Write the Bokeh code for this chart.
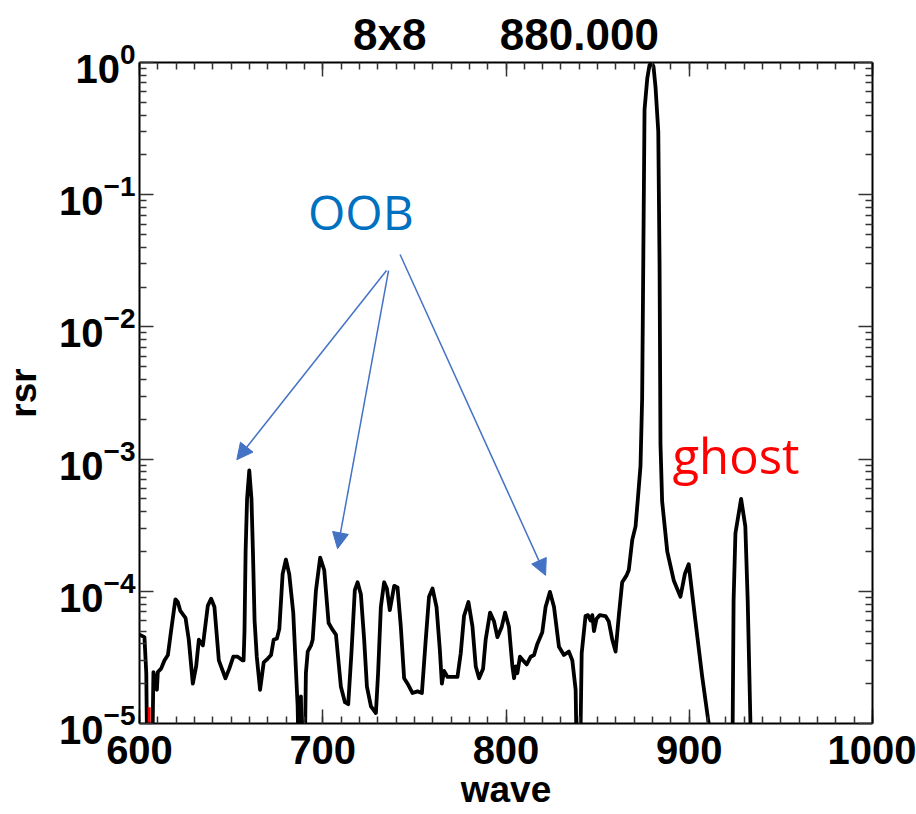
from bokeh.plotting import figure
from bokeh.models import Range1d, LinearAxis, LogAxis, FixedTicker, Arrow, NormalHead, Label, Title
from bokeh.embed import file_html
from bokeh.resources import INLINE

# ---- data ----
wave = [600.0, 602.7, 603.7, 604.4, 606.7, 607.6, 609.5, 610.0, 611.8, 613.6, 615.5, 617.3, 619.6, 620.9,
        622.3, 625.1, 626.9, 629.1, 630.9, 632.4, 634.6, 637.3, 639.1, 640.9, 643.3, 644.5, 646.9, 649.0,
        651.2, 653.6, 656.3, 656.8, 657.3, 657.9, 658.7, 659.9, 661.1, 661.9, 662.8, 664.0, 665.8, 667.8,
        670.0, 671.8, 673.2, 675.0, 676.3, 678.1, 679.9, 681.7, 683.9, 686.3, 687.2, 688.1, 689.0, 689.9,
        690.8, 691.8, 693.6, 694.5, 696.3, 698.6, 700.8, 703.2, 705.4, 707.2, 709.9, 712.1, 713.9, 715.7,
        717.5, 719.0, 720.8, 722.6, 724.1, 726.3, 729.0, 730.2, 731.7, 733.5, 735.0, 736.6, 739.0, 740.8,
        742.6, 744.4, 746.3, 749.0, 751.7, 754.1, 756.2, 758.0, 759.9, 762.1, 763.9, 765.0, 766.2, 768.1,
        770.8, 773.5, 775.3, 777.1, 779.5, 781.7, 783.5, 785.3, 787.5, 788.9, 791.3, 793.5, 795.3, 797.7,
        799.5, 801.6, 803.5, 804.4, 805.3, 806.2, 807.6, 809.8, 811.3, 813.5, 815.3, 817.1, 819.8, 821.6,
        824.0, 826.2, 828.9, 831.6, 834.3, 836.2, 838.0, 838.9, 840.2, 841.3, 843.4, 844.7, 846.2, 847.1,
        848.0, 849.4, 851.2, 854.3, 856.1, 858.0, 859.8, 861.6, 863.4, 865.8, 867.0, 868.9, 870.7, 871.9,
        873.4, 874.3, 874.9, 875.6, 877.1, 878.3, 879.4, 880.5, 881.6, 883.1, 883.8, 884.3, 885.2, 886.5,
        888.0, 891.6, 895.2, 897.6, 899.7, 903.4, 907.0, 910.6, 912.0, 922.5, 923.7, 924.2, 925.2, 928.3,
        930.6, 931.9, 933.4, 934.5]
rsr = [4.7e-5, 4.5e-5, 2.4e-5, 3e-6, 3e-6, 2.45e-5, 1.8e-5, 2.45e-5, 2.6e-5, 3.0e-5, 3.3e-5, 5.1e-5, 8.7e-5, 8.3e-5,
       7.1e-5, 6.3e-5, 4.3e-5, 2.0e-5, 2.7e-5, 4.3e-5, 3.9e-5, 7.8e-5, 8.8e-5, 7.6e-5, 3.0e-5, 2.7e-5, 2.2e-5, 2.6e-5,
       3.2e-5, 3.2e-5, 3.0e-5, 3.0e-5, 5e-5, 2e-4, 5e-4, 8.2e-4, 5e-4, 2e-4, 6e-5, 3.2e-5, 1.8e-5, 2.9e-5,
       3.1e-5, 3.3e-5, 4.3e-5, 4.4e-5, 5.2e-5, 1.35e-4, 1.74e-4, 1.35e-4, 6.9e-5, 1.35e-5, 3e-6, 1.6e-5, 3e-6, 3e-6,
       2.4e-5, 3.5e-5, 3.9e-5, 4.3e-5, 1.02e-4, 1.8e-4, 1.45e-4, 5.75e-5, 5.1e-5, 4.7e-5, 1.9e-5, 1.45e-5, 1.4e-5, 3.5e-5,
       1.02e-4, 1.17e-4, 9.5e-5, 4.3e-5, 1.9e-5, 1.35e-5, 1.2e-5, 2.4e-5, 7.6e-5, 1.17e-4, 1.05e-4, 7.2e-5, 1.1e-4, 1.07e-4,
       5.4e-5, 2.2e-5, 2.0e-5, 1.7e-5, 1.75e-5, 1.7e-5, 4.3e-5, 9.1e-5, 1.05e-4, 7.6e-5, 3.6e-5, 2.0e-5, 2.5e-5, 2.25e-5,
       2.25e-5, 2.25e-5, 3.4e-5, 6.5e-5, 8.3e-5, 5.4e-5, 2.7e-5, 2.2e-5, 2.6e-5, 4.3e-5, 6.9e-5, 5.9e-5, 4.5e-5, 5.4e-5,
       6.9e-5, 5.4e-5, 2.7e-5, 2.2e-5, 2.7e-5, 2.4e-5, 3.2e-5, 2.95e-5, 2.8e-5, 3.2e-5, 3.3e-5, 4.0e-5, 4.9e-5, 7.6e-5,
       9.9e-5, 7.6e-5, 3.8e-5, 3.3e-5, 3.5e-5, 3.0e-5, 1.8e-5, 3e-6, 3e-6, 3.4e-5, 6.5e-5, 6.6e-5, 6.0e-5, 6.6e-5,
       5.0e-5, 6.2e-5, 6.6e-5, 6.5e-5, 5.9e-5, 4.3e-5, 3.5e-5, 6.6e-5, 1.17e-4, 1.32e-4, 1.45e-4, 2.45e-4, 3.1e-4, 4.9e-4,
       8.9e-4, 2.9e-3, 2.95e-2, 0.44, 0.76, 0.95, 1.0, 0.93, 0.65, 0.30, 2.95e-2, 1.3e-3, 4.8e-4, 3.2e-4,
       2.0e-4, 1.2e-4, 9.1e-5, 1.35e-4, 1.6e-4, 5.9e-5, 2.3e-5, 1e-5, 3e-6, 3e-6, 1e-5, 8.5e-5, 2.75e-4, 5.0e-4,
       3.1e-4, 8.5e-5, 1e-5, 3e-6]

red_wave = [605.3, 605.3]
red_rsr = [3e-6, 1.33e-5]

x_major = [600, 700, 800, 900, 1000]
x_minor = [v for v in range(600, 1001, 10)]
y_major = [1e-5, 1e-4, 1e-3, 1e-2, 1e-1, 1.0]
y_minor = [k * 10.0 ** e for e in range(-5, 0) for k in range(2, 10)]

# annotation anchors (data coordinates)
arrow_x_start = [734.8, 735.9, 742.2]
arrow_y_start = [0.0267, 0.0267, 0.0353]
arrow_x_end = [653.1, 708.1, 821.6]
arrow_y_end = [9.9e-4, 2.1e-4, 1.32e-4]
oob_pos = (720.8, 0.074)
ghost_pos = (925.5, 1.08e-3)

title_text = "8x8\u00a0\u00a0\u00a0\u00a0\u00a0\u00a0880.000"

FONT = "Liberation Sans"

p = figure(width=916, height=814, y_axis_type="log",
           x_range=Range1d(600, 1000), y_range=Range1d(1e-5, 1.0),
           output_backend="svg", toolbar_location=None,
           min_border_left=138, min_border_right=44, min_border_top=62, min_border_bottom=91)
p.title = Title(text=title_text, align="center", text_font=FONT, text_font_size="44px",
                text_font_style="bold", text_color="black", standoff=8)
p.grid.visible = False
p.outline_line_color = None
p.background_fill_color = "white"

def style_axis(ax, show_labels):
    ax.axis_line_width = 2
    ax.axis_line_color = "black"
    ax.major_tick_in = 14
    ax.major_tick_out = 0
    ax.minor_tick_in = 7
    ax.minor_tick_out = 0
    ax.major_tick_line_color = "#333333"
    ax.minor_tick_line_color = "#333333"
    ax.major_tick_line_width = 1.5
    ax.minor_tick_line_width = 1.5
    if show_labels:
        ax.major_label_text_font = FONT
        ax.major_label_text_font_style = "bold"
        ax.major_label_text_font_size = "40px"
        ax.major_label_text_color = "black"
        ax.axis_label_text_font = FONT
        ax.axis_label_text_font_style = "bold"
        ax.axis_label_text_font_size = "37px"
        ax.axis_label_text_color = "black"
    else:
        ax.major_label_text_font_size = "1px"
        ax.major_label_text_color = None
        ax.major_label_standoff = 0

xa = p.xaxis[0]
xa.ticker = FixedTicker(ticks=x_major, minor_ticks=x_minor)
xa.axis_label = "wave"
style_axis(xa, True)
xa.major_label_standoff = 12
xa.axis_label_standoff = 2

ya = p.yaxis[0]
ya.ticker = FixedTicker(ticks=y_major, minor_ticks=y_minor)
ya.axis_label = "rsr"
style_axis(ya, True)
ya.major_label_standoff = 4
ya.axis_label_standoff = 12

top = LinearAxis(ticker=FixedTicker(ticks=x_major, minor_ticks=x_minor))
style_axis(top, False)
p.add_layout(top, "above")
right = LogAxis(ticker=FixedTicker(ticks=y_major, minor_ticks=y_minor))
style_axis(right, False)
p.add_layout(right, "right")

p.line(wave, rsr, line_color="black", line_width=3.8, line_join="round")
p.line(red_wave, red_rsr, line_color="red", line_width=3)

blue = "#4472C4"
for xs, ys, xe, ye in zip(arrow_x_start, arrow_y_start, arrow_x_end, arrow_y_end):
    p.add_layout(Arrow(end=NormalHead(size=16, fill_color=blue, line_color=blue, line_width=1),
                       x_start=xs, y_start=ys, x_end=xe, y_end=ye,
                       line_color=blue, line_width=1.5))

p.add_layout(Label(x=oob_pos[0], y=oob_pos[1], text="OOB", text_align="center", text_baseline="middle",
                   text_font="Open Sans", text_font_size="48px", text_color="#0070C0"))
p.add_layout(Label(x=ghost_pos[0], y=ghost_pos[1], text="ghost", text_align="center", text_baseline="middle",
                   text_font="Open Sans", text_font_size="49px", text_color="#FF0000"))

open("out.html", "w").write(file_html(p, INLINE))
